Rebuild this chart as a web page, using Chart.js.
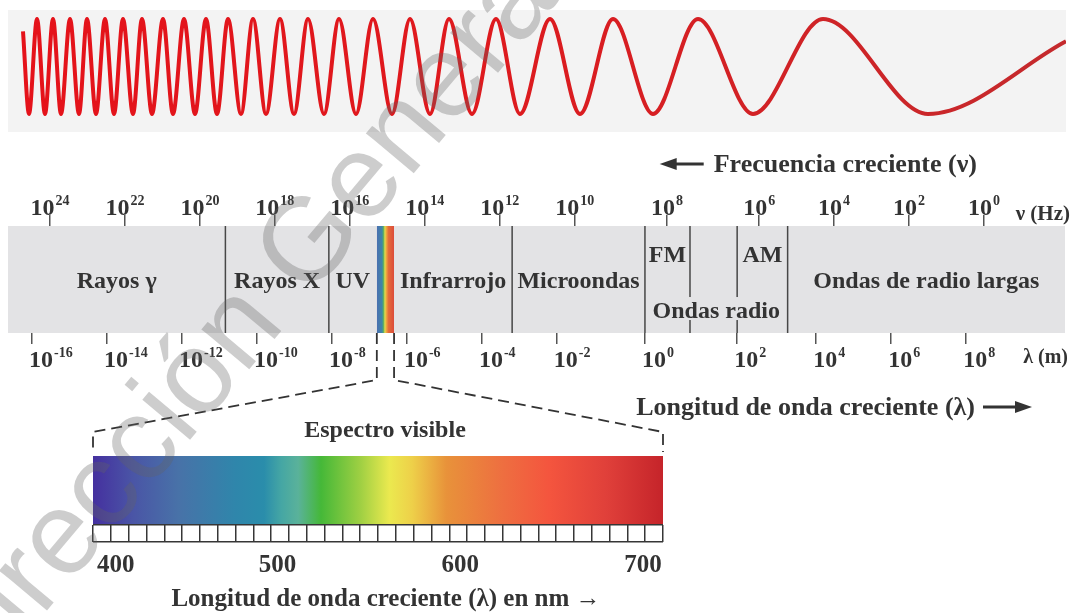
<!DOCTYPE html>
<html>
<head>
<meta charset="utf-8">
<title>Espectro electromagnético</title>
<script src="https://cdn.jsdelivr.net/npm/chart.js@4.4.1/dist/chart.umd.min.js"></script>
<style>
    html, body { margin: 0; padding: 0; background: #fff; }
    #stage { position: relative; width: 1073px; height: 613px; overflow: hidden; }
    #stage canvas, #stage svg { position: absolute; left: 0; top: 0; }
    #stage svg { pointer-events: none; }
</style>
</head>
<body>
<div id="stage">
    <canvas id="wave" width="1073" height="613"></canvas>
    <canvas id="band" width="1073" height="613"></canvas>
    <canvas id="visible" width="1073" height="613"></canvas>
    <canvas id="cells" width="1073" height="613"></canvas>
    <svg width="1073" height="613">
        <text x="-30" y="702" transform="rotate(-50 -30 702)" font-family="Liberation Sans" font-size="118"
              fill="rgba(100,100,100,0.32)">Dirección General</text>
    </svg>
</div>
<script>
//wave: crests and troughs, read as columns of the original drawing
const waveX = [23, 29, 37, 45, 53, 61, 70, 79, 87, 96, 105, 114, 123, 133, 142, 152, 163, 173, 184, 195,
    206, 217, 228, 241, 253, 266, 280, 294, 308, 324, 339, 356, 373, 392, 410, 430, 449, 472, 496, 520,
    550, 580, 613, 653, 698, 753, 823, 928, 1066];
const waveY = [0.74, -1, 1, -1, 1, -1, 1, -1, 1, -1, 1, -1, 1, -1, 1, -1, 1, -1, 1, -1,
    1, -1, 1, -1, 1, -1, 1, -1, 1, -1, 1, -1, 1, -1, 1, -1, 1, -1, 1, -1,
    1, -1, 1, -1, 1, -1, 1, -1, 0.53];

//axis ticks, exponents of 10
const freqExponents = [24, 22, 20, 18, 16, 14, 12, 10, 8, 6, 4, 2, 0];
const wavelengthExponents = [-16, -14, -12, -10, -8, -6, -4, -2, 0, 2, 4, 6, 8];

//regions of the spectrum, limits in log10(Hz)
const regionNames = ['Rayos γ', 'Rayos X', 'UV', 'Infrarrojo', 'Microondas', 'FM', 'AM', 'Ondas radio', 'Ondas de radio largas'];
const regionHigh = [25.12, 19.32, 16.56, 14.82, 11.67, 8.477, 6.477, 8.477, 5.24];
const regionLow = [19.32, 16.56, 15.28, 11.67, 8.477, 7.50, 5.24, 5.24, -2.16];
const regionRow = ['centro', 'centro', 'centro', 'centro', 'centro', 'arriba', 'arriba', 'abajo', 'centro'];
const dividers = [19.32, 16.56, 11.67, 8.477, 7.50, 6.477, 5.24];
const visibleBand = [15.28, 14.82];
const bandExtent = [25.12, -2.16];

//visible spectrum in nm
const visibleRange = [399, 711];
const visibleTicks = [400, 500, 600, 700];
const cellCount = 32;

//styles
const ink = '#333333';
const bandColor = '#e3e3e5';
const rowY = { arriba: 0.66, centro: 0.425, abajo: 0.14 };
const radioStretch = { low: 6, high: 10, factor: 1.23 };
const LOG_C = Math.log10(2.998e8);
const spectrumStops = [
    [0, '#45309f'], [0.07, '#4a55a6'], [0.15, '#4872a8'], [0.25, '#2f86ab'], [0.30, '#2a8dab'],
    [0.33, '#45a6a4'], [0.36, '#5ab29a'], [0.40, '#45b838'], [0.47, '#a0d043'], [0.52, '#ebe94f'],
    [0.56, '#eed049'], [0.62, '#e8923a'], [0.72, '#ee6e40'], [0.80, '#f4553e'], [0.90, '#e0403a'], [1, '#c5242a']
];
const stripStops = [
    [0, '#4b6fb1'], [0.3, '#3f86a8'], [0.38, '#58ac62'], [0.47, '#e2dc4c'], [0.56, '#eda23e'], [0.68, '#e46b3a'], [1, '#dc4c3a']
];

Chart.defaults.font.family = '"Liberation Serif", serif';
Chart.defaults.color = ink;

//the radio part of the drawing is a bit wider per decade
function pos(logNu) {
    const { low, high, factor } = radioStretch;
    if (logNu <= low) return logNu;
    if (logNu <= high) return low + (logNu - low) * factor;
    return low + (high - low) * factor + (logNu - high);
}

function gradient(ctx, x1, x2, stops) {
    const g = ctx.createLinearGradient(x1, 0, x2, 0);
    stops.forEach(([at, c]) => g.addColorStop(at, c));
    return g;
}

function write(ctx, str, x, y, size, align) {
    ctx.font = 'bold ' + size + 'px "Liberation Serif"';
    ctx.textAlign = align || 'center';
    ctx.textBaseline = 'alphabetic';
    ctx.fillStyle = ink;
    ctx.fillText(str, x, y);
}

function arrow(ctx, xTail, xTip, y) {
    const dir = Math.sign(xTip - xTail);
    ctx.save();
    ctx.strokeStyle = ink;
    ctx.fillStyle = ink;
    ctx.lineWidth = 3;
    ctx.beginPath();
    ctx.moveTo(xTail, y);
    ctx.lineTo(xTip - dir * 14, y);
    ctx.stroke();
    ctx.beginPath();
    ctx.moveTo(xTip, y);
    ctx.lineTo(xTip - dir * 17, y - 6);
    ctx.lineTo(xTip - dir * 17, y + 6);
    ctx.closePath();
    ctx.fill();
    ctx.restore();
}

//"10" with a raised exponent
function power(ctx, exp, x, y, centered) {
    ctx.font = 'bold 24px "Liberation Serif"';
    const baseW = ctx.measureText('10').width;
    ctx.font = 'bold 14px "Liberation Serif"';
    const expW = ctx.measureText(String(exp)).width;
    const left = centered ? x - (baseW + 1 + expW) / 2 : x - 3;
    write(ctx, '10', left, y, 24, 'left');
    write(ctx, String(exp), left + baseW + 1, y - 10, 14, 'left');
}

const noChrome = {
    responsive: false,
    animation: false,
    events: [],
    plugins: { legend: { display: false }, tooltip: { enabled: false } }
};

//---- top wave ----
const panelFill = {
    id: 'panelFill',
    beforeDraw(chart) {
        const a = chart.chartArea;
        chart.ctx.save();
        chart.ctx.fillStyle = '#f3f3f3';
        chart.ctx.fillRect(a.left, a.top, a.width, a.height);
        chart.ctx.restore();
    }
};

new Chart(document.getElementById('wave'), {
    type: 'line',
    data: {
        datasets: [{
            data: waveX.map((x, i) => ({ x: x, y: waveY[i] })),
            borderColor: (c) => c.chart.chartArea
                ? gradient(c.chart.ctx, c.chart.chartArea.left, c.chart.chartArea.right, [[0, '#e5121a'], [0.45, '#de1a1e'], [1, '#c42a2d']])
                : '#d91f22',
            borderWidth: 4,
            pointRadius: 0,
            cubicInterpolationMode: 'monotone',
            fill: false
        }]
    },
    options: {
        ...noChrome,
        layout: { padding: { left: 8, right: 7, top: 10, bottom: 481 } },
        scales: {
            x: { type: 'linear', min: 8, max: 1066, display: false },
            y: { min: -1.38, max: 1.19, display: false }
        }
    },
    plugins: [panelFill]
});

//---- electromagnetic band ----
const dividerPoints = [];
dividers.forEach(d => {
    dividerPoints.push({ x: pos(d), y: 1 }, { x: pos(d), y: 0 }, { x: pos(d), y: null });
});

const bandDecor = {
    id: 'bandDecor',
    beforeDatasetsDraw(chart) {
        const a = chart.chartArea;
        chart.ctx.save();
        chart.ctx.fillStyle = bandColor;
        chart.ctx.fillRect(a.left, a.top, a.width, a.height);
        chart.ctx.restore();
    },
    afterDatasetsDraw(chart) {
        const ctx = chart.ctx;
        const x = chart.scales.x;
        const y = chart.scales.y;
        ctx.save();
        regionNames.forEach((name, i) => {
            const cx = (x.getPixelForValue(pos(regionHigh[i])) + x.getPixelForValue(pos(regionLow[i]))) / 2;
            const by = y.getPixelForValue(rowY[regionRow[i]]);
            if (regionRow[i] === 'abajo') {
                ctx.font = 'bold 24px "Liberation Serif"';
                const w = ctx.measureText(name).width;
                ctx.fillStyle = bandColor;
                ctx.fillRect(cx - w / 2 - 3, by - 21, w + 6, 23);
            }
            write(ctx, name, cx, by, 24);
        });
        ctx.restore();
    },
    afterDraw(chart) {
        const ctx = chart.ctx;
        const a = chart.chartArea;
        ctx.save();
        chart.scales.x.ticks.forEach((t, i) => {
            power(ctx, freqExponents[i], chart.scales.x.getPixelForValue(t.value), a.top - 11, true);
        });
        chart.scales.x2.ticks.forEach((t, i) => {
            power(ctx, wavelengthExponents[i], chart.scales.x2.getPixelForValue(t.value), a.bottom + 34, false);
        });
        write(ctx, 'ν (Hz)', a.right + 5, a.top - 6, 21, 'right');
        write(ctx, 'λ (m)', a.right + 3, a.bottom + 30, 20, 'right');

        //titles with arrows
        ctx.font = 'bold 26px "Liberation Serif"';
        const head = 'Frecuencia creciente (ν)';
        const headLeft = a.right - 88 - ctx.measureText(head).width;
        write(ctx, head, a.right - 88, a.top - 54, 26, 'right');
        arrow(ctx, headLeft - 10, headLeft - 54, a.top - 62);

        write(ctx, 'Longitud de onda creciente (λ)', a.right - 90, a.bottom + 82, 26, 'right');
        arrow(ctx, a.right - 82, a.right - 33, a.bottom + 74);
        ctx.restore();
    }
};

const bandAxis = (position, values) => ({
    type: 'linear',
    position: position,
    min: pos(bandExtent[1]),
    max: pos(bandExtent[0]),
    reverse: true,
    afterBuildTicks: (s) => { s.ticks = values.map(v => ({ value: v })); },
    ticks: { display: false },
    grid: { drawOnChartArea: false, tickLength: 11, color: '#555555', lineWidth: 1.5 },
    border: { display: false }
});

const bandChart = new Chart(document.getElementById('band'), {
    type: 'line',
    data: {
        datasets: [{
            label: 'visible',
            data: visibleBand.map(v => ({ x: pos(v), y: 1 })),
            fill: 'start',
            backgroundColor: (c) => {
                const s = c.chart.scales.x;
                if (!s || !c.chart.chartArea) return '#88aa66';
                return gradient(c.chart.ctx, s.getPixelForValue(pos(visibleBand[0])), s.getPixelForValue(pos(visibleBand[1])), stripStops);
            },
            borderWidth: 0,
            pointRadius: 0
        }, {
            label: 'límites',
            data: dividerPoints,
            borderColor: '#474747',
            borderWidth: 1.5,
            pointRadius: 0,
            fill: false,
            spanGaps: false
        }]
    },
    options: {
        ...noChrome,
        layout: { padding: { left: 8, right: 8, top: 215, bottom: 269 } },
        scales: {
            x: bandAxis('top', freqExponents.map(pos)),
            x2: bandAxis('bottom', wavelengthExponents.map(e => pos(LOG_C - e))),
            y: { min: 0, max: 1, display: false }
        }
    },
    plugins: [bandDecor]
});

//---- visible spectrum ----
const visibleDecor = {
    id: 'visibleDecor',
    afterDraw(chart) {
        const ctx = chart.ctx;
        const a = chart.chartArea;
        const x = chart.scales.x;
        const mid = (a.left + a.right) / 2;
        ctx.save();

        //dashed zoom lines from the narrow strip in the band
        const bx = bandChart.scales.x;
        const bandBottom = bandChart.chartArea.bottom;
        ctx.strokeStyle = ink;
        ctx.lineWidth = 1.8;
        ctx.setLineDash([11, 6]);
        [[visibleBand[0], a.left], [visibleBand[1], a.right]].forEach(([nu, corner]) => {
            const sx = bx.getPixelForValue(pos(nu));
            ctx.beginPath();
            ctx.moveTo(sx, bandBottom);
            ctx.lineTo(sx, bandBottom + 47);
            ctx.lineTo(corner, a.top - 24);
            ctx.lineTo(corner, a.top - 4);
            ctx.stroke();
        });
        ctx.setLineDash([]);

        write(ctx, 'Espectro visible', mid + 7, a.top - 19, 24);

        ctx.font = 'bold 25px "Liberation Serif"';
        visibleTicks.forEach(v => {
            const w = ctx.measureText(String(v)).width;
            let cx = Math.max(x.getPixelForValue(v), a.left + w / 2 + 4);
            cx = Math.min(cx, a.right - w / 2 + 2);
            write(ctx, String(v), cx, a.bottom + 47, 25);
        });
        write(ctx, 'Longitud de onda creciente (λ) en nm →', mid + 8, a.bottom + 81, 25);
        ctx.restore();
    }
};

new Chart(document.getElementById('visible'), {
    type: 'line',
    data: {
        datasets: [{
            data: visibleRange.map(v => ({ x: v, y: 1 })),
            fill: 'start',
            backgroundColor: (c) => c.chart.chartArea
                ? gradient(c.chart.ctx, c.chart.chartArea.left, c.chart.chartArea.right, spectrumStops)
                : '#88aa66',
            borderWidth: 0,
            pointRadius: 0
        }]
    },
    options: {
        ...noChrome,
        layout: { padding: { left: 93, right: 410, top: 456, bottom: 88 } },
        scales: {
            x: { type: 'linear', min: visibleRange[0], max: visibleRange[1], display: false },
            y: { min: 0, max: 1, display: false }
        }
    },
    plugins: [visibleDecor]
});

//---- graduation under the spectrum ----
const cellGrid = { color: '#363636', lineWidth: 1.5, drawTicks: false };
new Chart(document.getElementById('cells'), {
    type: 'line',
    data: { datasets: [] },
    options: {
        ...noChrome,
        layout: { padding: { left: 93, right: 410, top: 525, bottom: 71 } },
        scales: {
            x: {
                type: 'linear', min: 0, max: cellCount,
                afterBuildTicks: (s) => { s.ticks = Array.from({ length: cellCount + 1 }, (_, i) => ({ value: i })); },
                ticks: { display: false }, grid: cellGrid, border: { display: false }
            },
            y: {
                min: 0, max: 1,
                afterBuildTicks: (s) => { s.ticks = [{ value: 0 }, { value: 1 }]; },
                ticks: { display: false }, grid: cellGrid, border: { display: false }
            }
        }
    }
});
</script>
</body>
</html>
